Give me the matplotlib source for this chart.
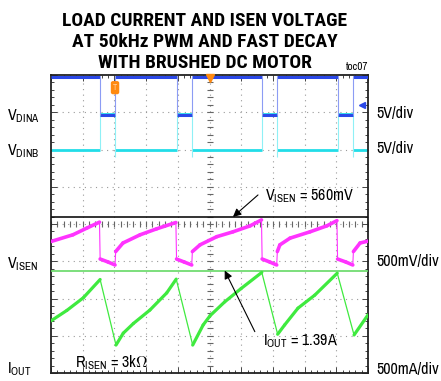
import numpy as np
import matplotlib
matplotlib.use('Agg')
import matplotlib.pyplot as plt
from matplotlib import font_manager
from matplotlib.collections import LineCollection


def first_font(cands, weight=None):
    for c in cands:
        for f in font_manager.fontManager.ttflist:
            if f.name == c and (weight is None or f.weight == weight):
                return c
    return 'Liberation Sans'


label_font = first_font(['Arial Narrow', 'Liberation Sans Narrow', 'Archivo Narrow', 'Roboto Condensed'])
title_font = first_font(['Arial Narrow', 'Liberation Sans Narrow', 'Roboto Condensed',
                         'Encode Sans Condensed', 'IBM Plex Sans Condensed'], weight=700)
plt.rcParams['font.family'] = [label_font, 'DejaVu Sans']
plt.rcParams['mathtext.fontset'] = 'custom'
plt.rcParams['mathtext.rm'] = label_font

# screen is 10 x 8 divisions; times and levels below are in divisions
t_fall = [1.55, 3.96, 6.66, 9.04]   # DINA goes low
t_rise = [2.03, 4.46, 7.14, 9.54]   # DINA back high
dina_hi, dina_lo = 7.95, 6.93
dinb_lo, dinb_hi = 5.99, 6.95
dinb_dip = 5.80

isen_t = [0.00, 0.69, 1.13, 1.53, 1.55, 1.80, 2.02, 2.04, 2.27, 2.81, 3.33, 3.94,
          3.96, 4.20, 4.44, 4.46, 4.70, 5.23, 5.74, 6.28, 6.64, 6.66, 6.90, 7.12,
          7.14, 7.22, 7.54, 8.17, 8.70, 9.02, 9.04, 9.30, 9.52, 9.54, 9.75, 10.0]
isen_v = [3.53, 3.71, 3.89, 4.05, 3.06, 2.98, 2.90, 3.26, 3.49, 3.71, 3.87, 4.04,
          3.06, 2.98, 2.90, 3.26, 3.44, 3.66, 3.79, 3.95, 4.11, 3.06, 2.98, 2.90,
          3.26, 3.44, 3.62, 3.79, 3.95, 4.09, 3.06, 2.98, 2.90, 3.26, 3.49, 3.54]

iout_t = [0.00, 0.50, 1.02, 1.55, 2.05, 2.28, 2.60, 3.12, 3.65, 3.95, 4.47, 4.80,
          5.02, 5.48, 6.00, 6.65, 7.15, 7.37, 7.79, 8.32, 9.03, 9.56, 10.0]
iout_v = [1.40, 1.68, 2.02, 2.51, 0.75, 1.07, 1.33, 1.69, 2.15, 2.52, 0.75, 1.29,
          1.54, 1.91, 2.27, 2.70, 1.04, 1.29, 1.74, 2.09, 2.68, 1.02, 1.56]

isen_cursor = 4.19   # 560mV
iout_cursor = 2.75   # 1.39A

W, H = 441, 381
fig = plt.figure(figsize=(W / 100, H / 100), dpi=100)
ax = fig.add_axes([51 / W, 8 / H, 317 / W, 298 / H])
ax.set_xlim(0, 10)
ax.set_ylim(0, 8)

# graticule
for i in range(1, 10):
    ax.axvline(i, color='#9a9a9a', lw=0.8, ls=(0, (1, 4)), zorder=0)
for j in range(1, 8):
    ax.axhline(j, color='#9a9a9a', lw=0.8, ls=(0, (1, 4)), zorder=0)
ax.plot(np.full(41, 5.0), np.arange(0, 8.01, 0.2), ls='none', marker='_', ms=5,
        mew=0.8, color='#666666', zorder=0)
ax.plot(np.arange(0, 10.01, 0.2), np.full(51, 4.0), ls='none', marker='|', ms=5,
        mew=0.8, color='#666666', zorder=0)
ax.set_xticks(range(11))
ax.set_yticks(range(9))
ax.set_xticks(np.arange(0, 10.01, 0.2), minor=True)
ax.set_yticks(np.arange(0, 8.01, 0.2), minor=True)
ax.tick_params(which='both', direction='in', top=True, right=True,
               labelbottom=False, labelleft=False, color='#444444', width=0.7)
ax.tick_params(which='major', length=4)
ax.tick_params(which='minor', length=2.5)
for sp in ax.spines.values():
    sp.set_linewidth(1.3)
    sp.set_color('#222222')

# digital channels
edges = [0] + sorted(t_fall + t_rise) + [10]
for k in range(len(edges) - 1):
    lvl_b = dinb_lo if k % 2 == 0 else dinb_hi
    ax.hlines(lvl_b, edges[k], edges[k + 1], color='#22dde8', lw=2.0, zorder=2)
ax.vlines(t_fall, dinb_lo, dinb_hi, color='#8ff0f6', lw=0.8, zorder=2)
ax.vlines(t_rise, dinb_dip, dinb_hi, color='#8ff0f6', lw=0.8, zorder=2)
for k in range(len(edges) - 1):
    lvl_a = dina_hi if k % 2 == 0 else dina_lo
    ax.hlines(lvl_a, edges[k], edges[k + 1], color='#2a48e8', lw=2.2, zorder=3)
ax.vlines(t_fall + t_rise, dina_lo, dina_hi, color='#8c9cf4', lw=0.8, zorder=3)

# cursors
ax.axhline(isen_cursor, color='#111111', lw=1.2, zorder=4)
ax.axhline(iout_cursor, color='#66d966', lw=1.2, zorder=4)


def trace(t, v, color, thick, thin, thin_test):
    pts = np.column_stack([t, v])
    segs = np.stack([pts[:-1], pts[1:]], axis=1)
    dt = np.diff(t)
    dv = np.diff(v)
    widths = [thin if thin_test(a, b) else thick for a, b in zip(dt, dv)]
    ax.add_collection(LineCollection(segs, colors=color, linewidths=widths,
                                     capstyle='round', zorder=5))


trace(isen_t, isen_v, '#ff33ff', 2.6, 0.8, lambda a, b: a < 0.03)
trace(iout_t, iout_v, '#3fea3f', 2.3, 0.9, lambda a, b: b < 0)

# scope markers
ax.plot(5.0, 7.93, marker='v', ms=6, color='#ff8a10', clip_on=False, zorder=6)
ax.text(2.02, 7.66, 'T', fontsize=6, color='#ffd0a0', ha='center', va='center', zorder=6,
        bbox=dict(boxstyle='round,pad=0.25', fc='#ff8a10', ec='none'))
ax.plot(9.80, 7.20, marker='<', ms=5, color='#2a48e8', zorder=6)
ax.plot([9.80, 9.90], [7.20, 7.20], color='#2a48e8', lw=1.5, zorder=6)

# annotations
ax.annotate('', xy=(5.74, isen_cursor), xytext=(6.53, 4.78),
            arrowprops=dict(arrowstyle='-|>', color='black', lw=0.8,
                            mutation_scale=12, shrinkA=0, shrinkB=0), zorder=7)
ax.annotate('', xy=(5.48, iout_cursor), xytext=(6.43, 1.11),
            arrowprops=dict(arrowstyle='-|>', color='black', lw=0.8,
                            mutation_scale=12, shrinkA=0, shrinkB=0), zorder=7)


def ftxt(x, y, s, **kw):
    fig.text(x / W, 1 - y / H, s, va='baseline', **kw)


fs = 11.5
ftxt(265, 200, r'$\mathregular{V_{ISEN}}$ = 560mV', fontsize=fs)
ftxt(263, 345, r'$\mathregular{I_{OUT}}$ = 1.39A', fontsize=fs)
ftxt(75, 367, r'$\mathregular{R_{ISEN}}$ = 3k$\Omega$', fontsize=fs)

ftxt(7, 120, r'$\mathregular{V_{DINA}}$', fontsize=fs)
ftxt(7, 155, r'$\mathregular{V_{DINB}}$', fontsize=fs)
ftxt(7, 268, r'$\mathregular{V_{ISEN}}$', fontsize=fs)
ftxt(7, 373, r'$\mathregular{I_{OUT}}$', fontsize=fs)

ftxt(376, 118, '5V/div', fontsize=fs)
ftxt(376, 153, '5V/div', fontsize=fs)
ftxt(376, 266, '500mV/div', fontsize=fs)
ftxt(376, 374, '500mA/div', fontsize=fs)

title_lines = ['LOAD CURRENT AND ISEN VOLTAGE',
               'AT 50kHz PWM AND FAST DECAY',
               'WITH BRUSHED DC MOTOR']
for line, yb in zip(title_lines, [26, 47, 68]):
    ftxt(205, yb, line, fontsize=14, fontweight='bold', ha='center',
         family=[title_font, 'DejaVu Sans'])
ftxt(368, 70, 'toc07', fontsize=8, ha='right')

fig.savefig('out.png', dpi=100)
